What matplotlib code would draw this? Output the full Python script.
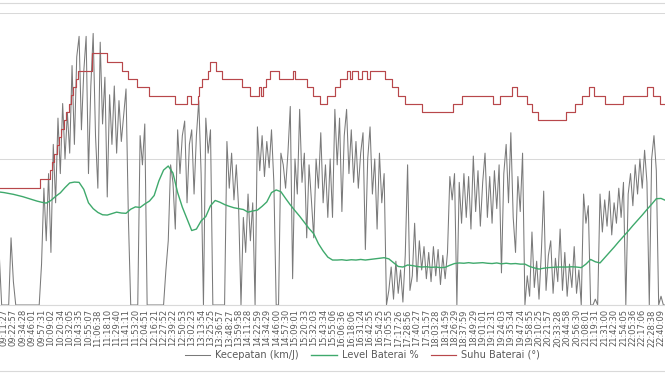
import numpy as np
import matplotlib
matplotlib.use('Agg')
import matplotlib.pyplot as plt
from matplotlib.lines import Line2D

# time labels on the category axis
labels = ['09:11:27', '09:22:57', '09:34:28', '09:46:01', '09:57:31', '10:09:02', '10:20:34',
          '10:32:05', '10:43:35', '10:55:07', '11:06:38', '11:18:10', '11:29:40', '11:41:11',
          '11:53:20', '12:04:51', '12:16:21', '12:27:52', '12:39:22', '12:50:53', '13:02:23',
          '13:13:54', '13:25:25', '13:36:57', '13:48:27', '13:59:58', '14:11:28', '14:22:59',
          '14:34:29', '14:46:00', '14:57:30', '15:09:01', '15:20:33', '15:32:03', '15:43:34',
          '15:55:06', '16:06:36', '16:18:06', '16:31:24', '16:42:55', '16:54:25', '17:05:55',
          '17:17:26', '17:28:56', '17:40:27', '17:51:57', '18:03:28', '18:14:59', '18:26:29',
          '18:37:59', '18:49:29', '19:01:01', '19:12:31', '19:24:03', '19:35:34', '19:47:24',
          '19:58:55', '20:10:25', '20:21:57', '20:33:28', '20:44:58', '20:56:30', '21:08:01',
          '21:19:31', '21:31:00', '21:42:30', '21:54:05', '22:05:36', '22:17:06', '22:28:38',
          '22:40:09']

# kecepatan, 4 samples per label step (first sample half a step before the first label)
speed = [
    17, 0, 0, 0, 0, 23, 8, 0, 0, 0,
    0, 0, 0, 0, 0, 0, 0, 0, 14, 40,
    22, 45, 18, 55, 35, 64, 45, 69, 50, 66,
    52, 82, 55, 85, 92, 60, 80, 92, 45, 75,
    93, 58, 40, 90, 62, 78, 37, 72, 55, 75,
    52, 70, 56, 65, 74, 30, 0, 0, 0, 0,
    58, 48, 62, 0, 0, 0, 0, 0, 0, 0,
    0, 12, 22, 48, 42, 26, 60, 45, 58, 63,
    35, 55, 60, 38, 58, 70, 45, 0, 64, 52,
    60, 0, 0, 0, 0, 0, 0, 56, 40, 52,
    36, 48, 33, 0, 30, 18, 38, 22, 35, 0,
    61, 46, 58, 44, 56, 47, 60, 42, 0, 0,
    52, 48, 40, 52, 68, 9, 50, 38, 67, 42,
    52, 23, 48, 36, 23, 50, 40, 59, 35, 48,
    30, 50, 30, 67, 48, 64, 32, 58, 67, 45,
    60, 42, 56, 40, 52, 59, 19, 50, 61, 38,
    50, 26, 52, 35, 45, 0, 5, 13, 2, 15,
    4, 12, 1, 17, 48, 5, 10, 28, 8, 22,
    12, 20, 9, 18, 8, 20, 10, 19, 7, 17,
    9, 18, 44, 36, 45, 0, 42, 28, 45, 30,
    44, 26, 51, 32, 46, 27, 42, 52, 30, 44,
    28, 46, 33, 48, 11, 45, 55, 35, 59, 30,
    18, 44, 32, 52, 0, 10, 3, 25, 6, 15,
    2, 18, 39, 5, 17, 22, 4, 16, 8, 26,
    5, 18, 3, 14, 6, 20, 4, 12, 0, 38,
    28, 34, 0, 0, 2, 0, 38, 25, 36, 27,
    39, 24, 35, 28, 40, 30, 42, 0, 38, 45,
    34, 48, 38, 50, 40, 53, 42, 0, 50, 58,
    46, 0, 3, 0, 0,
]

# level baterai, 2 samples per label step
level = [
    38.7, 38.5, 38.2, 37.9, 37.5, 37.1, 36.6, 36.1, 35.6, 35.2,
    34.9, 35.8, 37.2, 38.4, 40.2, 41.8, 42.1, 42.0, 39.6, 35.0,
    33.0, 31.7, 30.9, 30.8, 31.3, 31.8, 31.5, 31.4, 32.8, 33.6,
    33.4, 34.6, 35.6, 37.5, 42.5, 46.2, 47.6, 45.2, 38.5, 33.5,
    29.5, 25.5, 26.0, 28.8, 30.3, 34.0, 35.8, 35.2, 34.4, 33.8,
    33.3, 33.0, 32.7, 31.8, 32.2, 32.5, 33.8, 35.3, 38.5, 39.4,
    38.8, 36.5, 34.3, 32.3, 30.4, 28.3, 26.2, 24.4, 21.0, 18.5,
    16.4, 15.4, 15.4, 15.5, 15.3, 15.5, 15.4, 15.6, 15.4, 15.6,
    15.8, 16.0, 16.2, 15.8, 14.5, 13.2, 13.0, 13.7, 13.5, 13.2,
    13.0, 13.1, 12.9, 13.0, 12.8, 12.9, 13.6, 14.2, 14.4, 14.3,
    14.5, 14.3, 14.4, 14.5, 14.3, 14.2, 14.4, 14.1, 14.3, 14.1,
    14.2, 14.0, 14.0, 13.2, 12.7, 12.3, 12.6, 12.8, 12.9, 13.0,
    13.0, 13.0, 13.1, 13.0, 12.8, 14.0, 15.6, 14.8, 14.4, 16.2,
    18.0, 19.8, 21.7, 23.5, 25.3, 27.2, 29.0, 30.8, 32.7, 34.5,
    36.4, 36.5, 35.8,
]

# suhu baterai: value of each step and how long it lasts (in 1/8 label steps)
suhu_val = [40.1, 43.2, 46.1, 49.0, 51.8, 54.7, 57.5, 60.4, 63.2, 66.1, 68.9, 71.8, 74.6, 77.5,
            80.3, 86.3, 83.2, 80.3, 77.3, 74.5, 71.6, 68.8, 71.6, 68.8, 71.6, 74.5, 77.3,
            80.3, 83.2, 80.3, 77.3, 74.5, 71.6, 74.5, 71.6, 74.5, 77.3, 80.3, 77.3, 80.3,
            77.3, 74.5, 71.6, 68.8, 71.6, 74.5, 77.3, 80.3, 77.3, 80.3, 77.3, 80.3, 77.3,
            80.3, 77.3, 74.5, 71.6, 68.8, 66.0, 68.8, 71.6, 68.8, 71.6, 74.5, 71.6, 68.8,
            66.0, 63.2, 66.0, 68.8, 71.6, 74.5, 71.6, 68.8, 71.6, 74.5, 71.6, 68.8]
suhu_len = [35, 8, 2, 2, 2, 2, 2, 2, 2, 2, 2, 2, 2, 2,
            12, 13, 13, 5, 7, 11, 22, 10, 3, 6, 1, 3, 5,
            2, 5, 5, 17, 7, 7, 2, 2, 2, 4, 7, 12, 2,
            10, 5, 6, 6, 7, 4, 6, 3, 2, 5, 3, 4, 3,
            13, 6, 5, 6, 14, 27, 7, 27, 6, 10, 4, 9, 4,
            5, 24, 8, 6, 6, 4, 9, 16, 20, 5, 6, 5]

fig = plt.figure(figsize=(6.65, 3.74), dpi=100)
ax = fig.add_axes([0, 69 / 374, 1, 292 / 374])

x_speed = (np.arange(len(speed)) - 2) / 4
x_level = (np.arange(len(level)) - 1) / 2
x_suhu = (np.concatenate([[0], np.cumsum(suhu_len)]) - 4) / 8
y_suhu = suhu_val + [suhu_val[-1]]

ax.plot(x_speed, speed, color='#7a7a7a', lw=0.75, label='Kecepatan (km/J)')
ax.plot(x_level, level, color='#3fa96c', lw=1.0, label='Level Baterai %')
ax.step(x_suhu, y_suhu, where='post', color='#b8474b', lw=0.85, label='Suhu Baterai (°)')

step = 9.386  # px per label
ax.set_xlim(-4 / step, 661 / step)
ax.set_ylim(0, 100)
ax.set_yticks([0, 50, 100])
ax.yaxis.grid(True, color='#d9d9d9', lw=0.75)
ax.set_axisbelow(True)
ax.tick_params(axis='y', left=False, labelleft=False)
ax.set_xticks(range(len(labels)))
ax.set_xticklabels(labels, rotation=90, fontsize=6, color='#595959')
ax.tick_params(axis='x', length=0, pad=3)
for s in ['top', 'left', 'right']:
    ax.spines[s].set_visible(False)
ax.spines['bottom'].set_color('#d9d9d9')

fig.legend(loc='center', bbox_to_anchor=(0.545, 0.051), ncol=3, frameon=False,
           fontsize=7, handlelength=2.6, handletextpad=0.5, columnspacing=1.3,
           labelcolor='#595959')

# chart area border lines (top and bottom)
fig.add_artist(Line2D([0, 1], [1 - 3 / 374] * 2, color='#d9d9d9', lw=0.8))
fig.add_artist(Line2D([0, 1], [3 / 374] * 2, color='#d9d9d9', lw=0.8))

fig.savefig('out.png', dpi=100)
